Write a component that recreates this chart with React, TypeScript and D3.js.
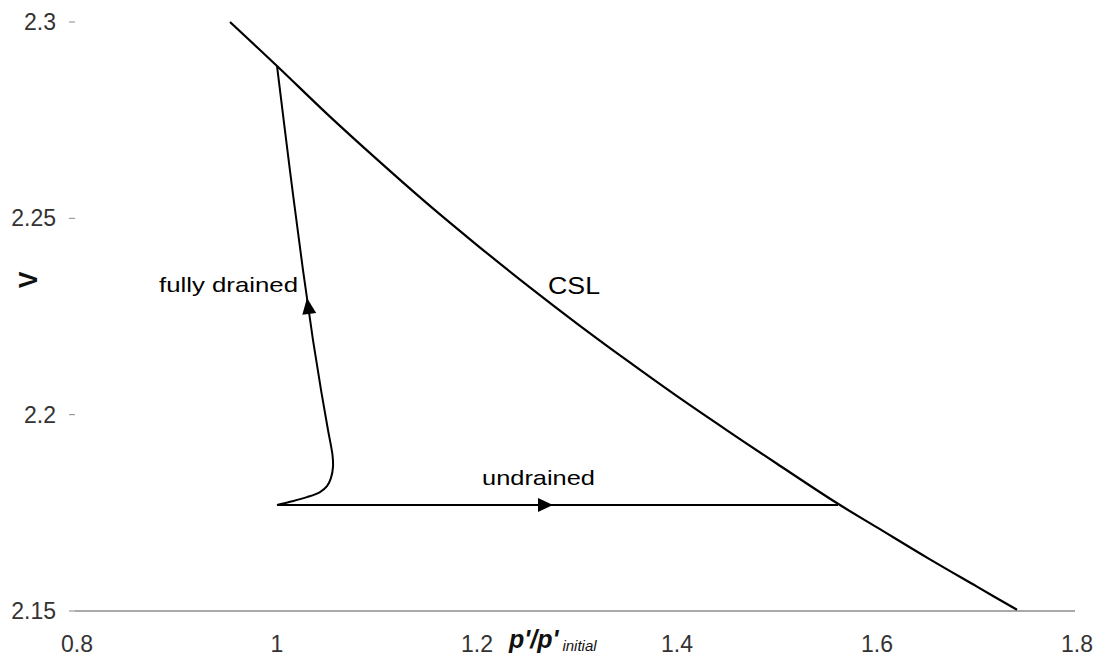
import React from "react";
import * as d3 from "d3";

// Critical state line (specific volume vs normalised mean effective stress)
const cslP = [0.953, 1.0, 1.05, 1.1, 1.15, 1.2, 1.25, 1.3, 1.35, 1.4, 1.45, 1.5, 1.561, 1.6, 1.65, 1.7, 1.74];
const cslV = [2.3, 2.2888, 2.2766, 2.265, 2.2538, 2.2432, 2.233, 2.2232, 2.2138, 2.2047, 2.196, 2.1875, 2.1773, 2.1713, 2.1636, 2.1562, 2.1503];

// Fully drained stress path (starts at the initial state, ends on the CSL)
const drainedP = [1.0, 1.013, 1.03, 1.043, 1.05, 1.054, 1.056, 1.0555, 1.051, 1.044, 1.036, 1.026, 1.013, 1.0];
const drainedV = [2.177, 2.1778, 2.179, 2.1803, 2.1818, 2.1839, 2.1867, 2.1897, 2.1961, 2.2063, 2.219, 2.2368, 2.2621, 2.2888];

// Undrained stress path (constant volume)
const undrainedP = [1.0, 1.561];
const undrainedV = [2.177, 2.177];

const xTicks = [0.8, 1, 1.2, 1.4, 1.6, 1.8];
const yTicks = [2.15, 2.2, 2.25, 2.3];

const W = 1098;
const H = 659;

const x = d3.scaleLinear().domain([0.8, 1.8]).range([77, 1077]);
const y = d3.scaleLinear().domain([2.15, 2.3]).range([611, 22]);

const line = d3
  .line<[number, number]>()
  .x((d) => x(d[0]))
  .y((d) => y(d[1]))
  .curve(d3.curveCatmullRom.alpha(0.5));

const zip = (a: number[], b: number[]): [number, number][] => a.map((v, i) => [v, b[i]]);

// Triangle arrowhead with its tip at (tx, ty) pointing along (dx, dy)
function arrowHead(tx: number, ty: number, dx: number, dy: number, len = 16, half = 7) {
  const n = Math.hypot(dx, dy);
  const ux = dx / n;
  const uy = dy / n;
  const bx = tx - ux * len;
  const by = ty - uy * len;
  const px = -uy * half;
  const py = ux * half;
  return `M${tx},${ty}L${bx + px},${by + py}L${bx - px},${by - py}Z`;
}

// Point on the drained path at a given v (linear between samples, in pixel space)
function drainedAt(v: number) {
  for (let i = 0; i < drainedV.length - 1; i++) {
    const v0 = drainedV[i];
    const v1 = drainedV[i + 1];
    if (v >= v0 && v <= v1) {
      const t = (v - v0) / (v1 - v0);
      const x0 = x(drainedP[i]);
      const x1 = x(drainedP[i + 1]);
      const y0 = y(v0);
      const y1 = y(v1);
      return { px: x0 + t * (x1 - x0), py: y0 + t * (y1 - y0), dx: x1 - x0, dy: y1 - y0 };
    }
  }
  return { px: 0, py: 0, dx: 0, dy: -1 };
}

const tickFont = "'Liberation Sans', Arial, Helvetica, sans-serif";

export default function App() {
  const dArrow = drainedAt(2.2297);
  const uTipP = 1.276;

  return (
    <svg
      width={W}
      height={H}
      viewBox={`0 0 ${W} ${H}`}
      style={{ position: "absolute", left: 0, top: 0, background: "#fff" }}
    >
      <rect x={0} y={0} width={W} height={H} fill="#fff" />

      {/* x axis */}
      <line x1={x(0.8) - 2} x2={x(1.8) - 2} y1={y(2.15)} y2={y(2.15)} stroke="#555" strokeWidth={1.2} />
      {xTicks.map((t) => (
        <text
          key={`xt${t}`}
          x={x(t)}
          y={652}
          textAnchor="middle"
          fontFamily={tickFont}
          fontSize={23}
          fill="#333"
        >
          {String(t)}
        </text>
      ))}

      {/* y axis ticks */}
      {yTicks.map((t) => (
        <g key={`yt${t}`}>
          <line x1={69} x2={75} y1={y(t)} y2={y(t)} stroke="#888" strokeWidth={1} />
          <text
            x={56}
            y={y(t) + 8}
            textAnchor="end"
            fontFamily={tickFont}
            fontSize={23}
            fill="#333"
          >
            {String(t)}
          </text>
        </g>
      ))}

      {/* axis titles */}
      <text
        transform="translate(37,280) rotate(-90)"
        textAnchor="middle"
        fontFamily={tickFont}
        fontSize={25}
        fontWeight="bold"
        fill="#111"
      >
        V
      </text>
      <text x={509} y={648} fontFamily={tickFont} fill="#111">
        <tspan fontSize={25} fontWeight="bold" fontStyle="italic">
          p'/p'
        </tspan>
        <tspan fontSize={15} fontStyle="italic" dx={4} dy={3}>
          initial
        </tspan>
      </text>

      {/* critical state line */}
      <path d={line(zip(cslP, cslV)) ?? ""} fill="none" stroke="#000" strokeWidth={2.2} />

      {/* fully drained path */}
      <path d={line(zip(drainedP, drainedV)) ?? ""} fill="none" stroke="#000" strokeWidth={2} />
      <path d={arrowHead(dArrow.px, dArrow.py, dArrow.dx, dArrow.dy, 16, 7)} fill="#000" />

      {/* undrained path */}
      <path d={line(zip(undrainedP, undrainedV)) ?? ""} fill="none" stroke="#000" strokeWidth={2} />
      <path d={arrowHead(x(uTipP), y(undrainedV[0]), 1, 0, 15, 7)} fill="#000" />

      {/* annotations */}
      <text
        x={159}
        y={292}
        fontFamily={tickFont}
        fontSize={21}
        textLength={139}
        lengthAdjust="spacingAndGlyphs"
        fill="#000"
      >
        fully drained
      </text>
      <text
        x={548}
        y={294}
        fontFamily={tickFont}
        fontSize={23}
        textLength={52}
        lengthAdjust="spacingAndGlyphs"
        fill="#000"
      >
        CSL
      </text>
      <text
        x={482}
        y={485}
        fontFamily={tickFont}
        fontSize={21}
        textLength={113}
        lengthAdjust="spacingAndGlyphs"
        fill="#000"
      >
        undrained
      </text>
    </svg>
  );
}
